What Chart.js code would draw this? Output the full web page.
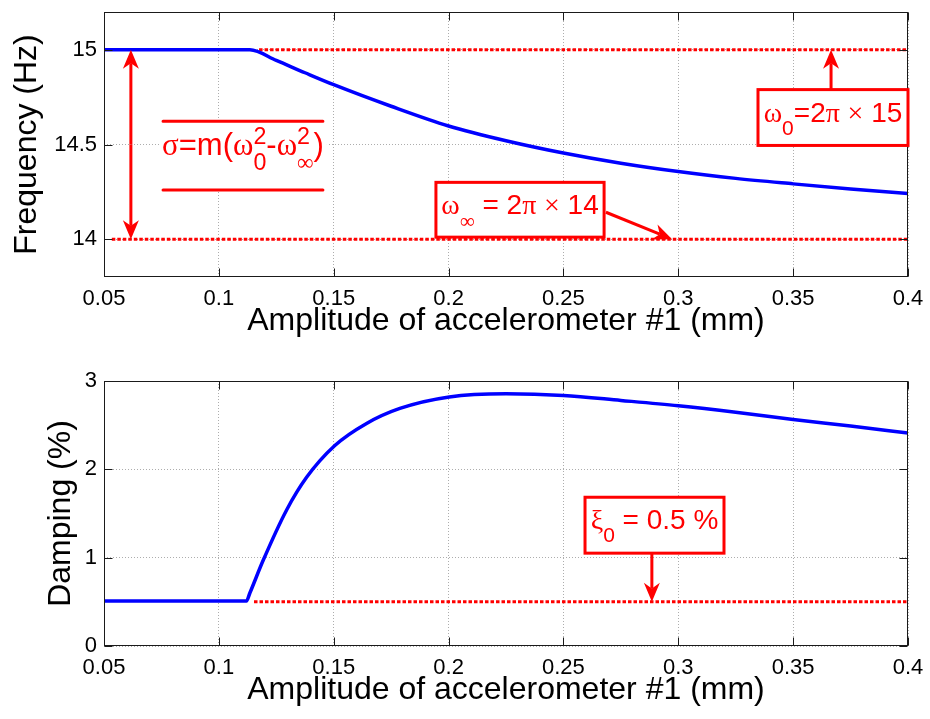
<!DOCTYPE html>
<html>
<head>
<meta charset="utf-8">
<script src="https://cdn.jsdelivr.net/npm/chart.js@4.4.0/dist/chart.umd.min.js"></script>
<style>
  html, body { margin: 0; padding: 0; background: #fff; }
  #wrap { position: relative; width: 930px; height: 719px; }
  canvas { position: absolute; left: 0; }
  #freqChart { top: 0; }
  #dampChart { top: 350px; }
</style>
</head>
<body>
<div id="wrap">
  <canvas id="freqChart" width="930" height="350"></canvas>
  <canvas id="dampChart" width="930" height="369"></canvas>
</div>
<script>
// tick positions
const xTicks = [0.05, 0.1, 0.15, 0.2, 0.25, 0.3, 0.35, 0.4];
const freqTicks = [14, 14.5, 15];
const dampTicks = [0, 1, 2, 3];

// identified frequency vs amplitude
const ampFreq = [0.05, 0.1135, 0.125, 0.1375, 0.15, 0.175, 0.2, 0.225, 0.25, 0.275, 0.3, 0.325, 0.35, 0.375, 0.4];
const freqHz  = [15, 15, 14.944, 14.879, 14.816, 14.702, 14.598, 14.52, 14.455, 14.401, 14.357, 14.321, 14.292, 14.265, 14.241];

// identified damping vs amplitude
const ampDamp = [0.05, 0.112, 0.1135, 0.1193, 0.1295, 0.1382, 0.1505, 0.1643, 0.1788, 0.2003, 0.225, 0.25, 0.275, 0.3, 0.325, 0.35, 0.375, 0.4];
const dampPct = [0.51, 0.51, 0.6, 0.97, 1.54, 1.91, 2.27, 2.52, 2.69, 2.82, 2.855, 2.836, 2.78, 2.72, 2.647, 2.565, 2.49, 2.41];

// reference levels (dotted red)
const omega0Amp = [0.1175, 0.4];
const omega0Hz = [15, 15];
const omegaInfAmp = [0.0534, 0.4];
const omegaInfHz = [14, 14];
const xi0Amp = [0.1153, 0.4];
const xi0Pct = [0.5, 0.5];

const FONT = '"Liberation Sans", Arial, Helvetica, sans-serif';
const SERIF = '"Liberation Serif", "DejaVu Serif", "Times New Roman", serif';
const RED = '#ff0000';
const BLUE = '#0000ff';
const GRID = 'rgba(0,0,0,0.32)';

function pairs(xs, ys) {
    return xs.map((x, i) => ({ x: x, y: ys[i] }));
}

function fmt(v) {
    return String(parseFloat(Number(v).toFixed(3)));
}

// text with sub/superscripts, MATLAB tex style
function runs(ctx, parts, size, x, y, draw) {
    const small = size * 0.75;
    let cx = x;
    parts.forEach(p => {
        if (p.t !== undefined) {
            ctx.font = size + 'px ' + (p.serif ? SERIF : FONT);
            if (draw) ctx.fillText(p.t, cx, y);
            cx += ctx.measureText(p.t).width;
        } else {
            let w = 0;
            if (p.sub) {
                ctx.font = small + 'px ' + (p.subSerif ? SERIF : FONT);
                if (draw) ctx.fillText(p.sub, cx, y + size * 0.47);
                w = Math.max(w, ctx.measureText(p.sub).width);
            }
            if (p.sup) {
                ctx.font = small + 'px ' + FONT;
                if (draw) ctx.fillText(p.sup, cx, y - size * 0.36);
                w = Math.max(w, ctx.measureText(p.sup).width);
            }
            cx += w;
        }
    });
    return cx - x;
}

function drawRich(ctx, parts, size, cx, y) {
    ctx.textAlign = 'left';
    ctx.textBaseline = 'alphabetic';
    const w = runs(ctx, parts, size, 0, 0, false);
    runs(ctx, parts, size, cx - w / 2, y, true);
}

function arrow(ctx, x1, y1, x2, y2) {
    const len = 19, wid = 16;
    const ang = Math.atan2(y2 - y1, x2 - x1);
    ctx.beginPath();
    ctx.moveTo(x1, y1);
    ctx.lineTo(x2 - Math.cos(ang) * len * 0.7, y2 - Math.sin(ang) * len * 0.7);
    ctx.stroke();
    ctx.save();
    ctx.translate(x2, y2);
    ctx.rotate(ang);
    ctx.beginPath();
    ctx.moveTo(0, 0);
    ctx.lineTo(-len, -wid / 2);
    ctx.lineTo(-len * 0.7, 0);
    ctx.lineTo(-len, wid / 2);
    ctx.closePath();
    ctx.fill();
    ctx.restore();
}

function noteBox(ctx, l, t, r, b, parts, size) {
    ctx.fillStyle = '#fff';
    ctx.fillRect(l, t, r - l, b - t);
    ctx.strokeRect(l, t, r - l, b - t);
    ctx.fillStyle = RED;
    drawRich(ctx, parts, size, (l + r) / 2, t + 32);
}

// axes box with inward ticks on all sides, then the annotations
function framePlugin(notes) {
    return {
        id: 'frame',
        afterDatasetsDraw(chart) {
            const { ctx, chartArea: a, scales: { x, y } } = chart;
            const L = Math.round(a.left) + 0.5, R = Math.round(a.right) - 0.5;
            const T = Math.round(a.top) + 0.5, B = Math.round(a.bottom) - 0.5;
            ctx.save();
            ctx.strokeStyle = '#1a1a1a';
            ctx.lineWidth = 1;
            ctx.strokeRect(L, T, R - L, B - T);
            ctx.beginPath();
            x.ticks.forEach(t => {
                const p = Math.round(x.getPixelForValue(t.value)) + 0.5;
                ctx.moveTo(p, B); ctx.lineTo(p, B - 8);
                ctx.moveTo(p, T); ctx.lineTo(p, T + 8);
            });
            y.ticks.forEach(t => {
                const p = Math.round(y.getPixelForValue(t.value)) + 0.5;
                ctx.moveTo(L, p); ctx.lineTo(L + 8, p);
                ctx.moveTo(R, p); ctx.lineTo(R - 8, p);
            });
            ctx.stroke();
            ctx.restore();

            ctx.save();
            ctx.strokeStyle = RED;
            ctx.fillStyle = RED;
            ctx.lineWidth = 3;
            notes(ctx, v => x.getPixelForValue(v), v => y.getPixelForValue(v));
            ctx.restore();
        }
    };
}

function options(yMin, yMax, yTicks, yTitle, yTitlePad, padTop) {
    const tickFont = { family: FONT, size: 22 };
    const titleFont = { family: FONT, size: 32, lineHeight: 1 };
    return {
        responsive: false,
        animation: false,
        layout: { padding: { top: padTop, right: 22, left: 0, bottom: 0 } },
        plugins: { legend: { display: false }, tooltip: { enabled: false } },
        elements: { point: { radius: 0 } },
        scales: {
            x: {
                type: 'linear',
                min: 0.05,
                max: 0.4,
                afterBuildTicks: s => { s.ticks = xTicks.map(v => ({ value: v })); },
                afterFit: s => { s.height = 73; s.paddingLeft = 0; s.paddingRight = 0; },
                ticks: { font: tickFont, color: '#000', padding: 9, maxRotation: 0, autoSkip: false, callback: fmt },
                grid: { color: GRID, drawTicks: false },
                border: { display: false, dash: [1, 2] },
                title: { display: true, text: 'Amplitude of accelerometer #1 (mm)', font: titleFont, color: '#000', padding: { top: 0, bottom: 13 } }
            },
            y: {
                type: 'linear',
                min: yMin,
                max: yMax,
                afterBuildTicks: s => { s.ticks = yTicks.map(v => ({ value: v })); },
                afterFit: s => { s.width = 104; s.paddingTop = 0; s.paddingBottom = 0; },
                ticks: { font: tickFont, color: '#000', padding: 7, callback: fmt },
                grid: { color: GRID, drawTicks: false },
                border: { display: false, dash: [1, 2] },
                title: { display: true, text: yTitle, font: titleFont, color: '#000', padding: { top: yTitlePad, bottom: 0 } }
            }
        }
    };
}

const dotted = { borderColor: RED, borderWidth: 3, borderDash: [3.5, 2], borderCapStyle: 'butt', fill: false };

new Chart(document.getElementById('freqChart'), {
    type: 'line',
    data: {
        datasets: [
            { data: pairs(ampFreq, freqHz), borderColor: BLUE, borderWidth: 3.5, cubicInterpolationMode: 'monotone', fill: false },
            Object.assign({ data: pairs(omega0Amp, omega0Hz) }, dotted),
            Object.assign({ data: pairs(omegaInfAmp, omegaInfHz) }, dotted)
        ]
    },
    options: options(13.8, 15.2, freqTicks, 'Frequency (Hz)', 11, 12),
    plugins: [framePlugin((ctx, px, py) => {
        // span between the two limits
        const ax = px(0.0617), mid = (py(15) + py(14)) / 2;
        arrow(ctx, ax, mid, ax, py(15));
        arrow(ctx, ax, mid, ax, py(14));

        // stiffness formula with top/bottom rules
        const fl = px(0.0757), fr = px(0.1453), ft = py(14.623), fb = py(14.26);
        ctx.fillStyle = '#fff';
        ctx.fillRect(fl - 4, ft, fr - fl + 8, fb - ft);
        ctx.lineCap = 'round';
        ctx.beginPath();
        ctx.moveTo(fl, ft); ctx.lineTo(fr, ft);
        ctx.moveTo(fl, fb); ctx.lineTo(fr, fb);
        ctx.stroke();
        ctx.lineCap = 'butt';
        ctx.fillStyle = RED;
        drawRich(ctx, [
            { t: 'σ', serif: true }, { t: '=m(' }, { t: 'ω', serif: true }, { sub: '0', sup: '2' },
            { t: '-' }, { t: 'ω', serif: true }, { sub: '∞', subSerif: true, sup: '2' }, { t: ')' }
        ], 31, (fl + fr) / 2, py(14.442));

        // omega_0 label
        noteBox(ctx, px(0.3347), py(14.79), px(0.4), py(14.495), [
            { t: 'ω', serif: true }, { sub: '0' }, { t: '=2' }, { t: 'π', serif: true },
            { t: ' ' }, { t: '×', serif: true }, { t: ' 15' }
        ], 28);
        arrow(ctx, px(0.3665), py(14.79), px(0.3665), py(15));

        // omega_inf label
        noteBox(ctx, px(0.1945), py(14.3), px(0.2677), py(14.0105), [
            { t: 'ω', serif: true }, { sub: '∞', subSerif: true }, { t: ' = 2' }, { t: 'π', serif: true },
            { t: ' ' }, { t: '×', serif: true }, { t: ' 14' }
        ], 28);
        arrow(ctx, px(0.2685), py(14.142), px(0.2973), py(14));
    })]
});

new Chart(document.getElementById('dampChart'), {
    type: 'line',
    data: {
        datasets: [
            { data: pairs(ampDamp, dampPct), borderColor: BLUE, borderWidth: 3.5, cubicInterpolationMode: 'monotone', fill: false },
            Object.assign({ data: pairs(xi0Amp, xi0Pct) }, dotted)
        ]
    },
    options: options(0, 3, dampTicks, 'Damping (%)', 45, 31),
    plugins: [framePlugin((ctx, px, py) => {
        noteBox(ctx, px(0.2594), py(1.684), px(0.3199), py(1.051), [
            { t: 'ξ', serif: true }, { sub: '0' }, { t: ' = 0.5 %' }
        ], 28);
        arrow(ctx, px(0.2885), py(1.051), px(0.2885), py(0.5));
    })]
});
</script>
</body>
</html>
